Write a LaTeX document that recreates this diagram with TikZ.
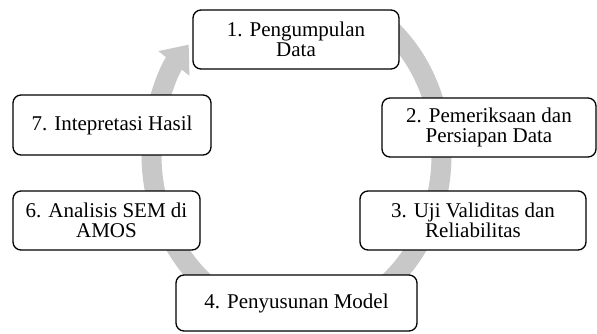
\documentclass[tikz,border=0pt]{standalone}
\usepackage{fontspec}
\setmainfont{Liberation Serif}
\usetikzlibrary{arrows.meta}
\definecolor{ringgray}{RGB}{200,200,200}
\tikzset{
  stepbox/.style={draw=black, line width=1.3pt, rounded corners=8pt, fill=white,
    inner sep=0pt, align=center, font=\fontsize{21}{20}\selectfont},
  ring/.style={draw=ringgray, line width=20pt, -{Triangle[length=24pt,width=38pt]}}
}
\begin{document}
\begin{tikzpicture}[x=1pt,y=1pt]
\useasboundingbox (0,0) rectangle (597,333);
\coordinate (c) at (296.5,178);
\draw[ring] (c) ++(52:145 and 165) arc[start angle=52, end angle=-222, x radius=145, y radius=165];
\node[stepbox, minimum width=206pt, minimum height=59pt] (n1) at (296,293.5) {1. Pengumpulan\\Data};
\node[stepbox, minimum width=214pt, minimum height=59pt] (n2) at (489,205.5) {2. Pemeriksaan dan\\Persiapan Data};
\node[stepbox, minimum width=226pt, minimum height=59pt] (n3) at (473,112.5) {3. Uji Validitas dan\\Reliabilitas};
\node[stepbox, minimum width=241pt, minimum height=56pt] (n4) at (296.5,30) {4. Penyusunan Model};
\node[stepbox, minimum width=187pt, minimum height=59pt] (n6) at (106.5,112.5) {6. Analisis SEM di\\AMOS};
\node[stepbox, minimum width=198pt, minimum height=60pt] (n7) at (112,208) {7. Intepretasi Hasil};
\end{tikzpicture}
\end{document}
